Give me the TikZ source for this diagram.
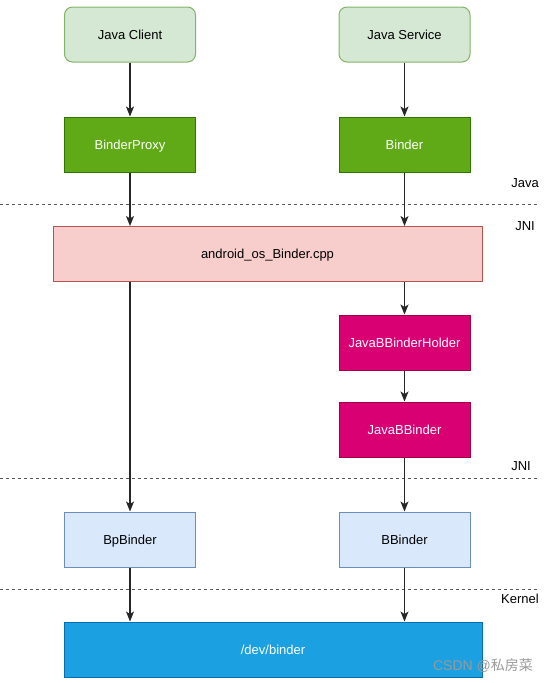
\documentclass[tikz,border=0pt]{standalone}
\usepackage{fontspec}
\setmainfont{Liberation Sans}
\newfontfamily\cjkfont{Noto Sans CJK SC}
\usetikzlibrary{arrows.meta}
\definecolor{gfill}{HTML}{D5E8D4}\definecolor{gline}{HTML}{82B366}
\definecolor{dgfill}{HTML}{60A917}\definecolor{dgline}{HTML}{2D7600}
\definecolor{rfill}{HTML}{F8CECC}\definecolor{rline}{HTML}{B85450}
\definecolor{mfill}{HTML}{D80073}\definecolor{mline}{HTML}{A50040}
\definecolor{bfill}{HTML}{DAE8FC}\definecolor{bline}{HTML}{6C8EBF}
\definecolor{cfill}{HTML}{1BA1E2}\definecolor{cline}{HTML}{006EAF}
\tikzset{
  box/.style={draw, line width=1pt, minimum width=131pt, minimum height=55pt, inner sep=0pt,
    text height=10pt, text depth=1pt, font=\fontsize{13}{15}\selectfont},
  greenbox/.style={box, fill=gfill, draw=gline, rounded corners=8pt},
  dgbox/.style={box, fill=dgfill, draw=dgline, text=white},
  redbox/.style={box, fill=rfill, draw=rline},
  magbox/.style={box, fill=mfill, draw=mline, text=white},
  bluebox/.style={box, fill=bfill, draw=bline},
  cyanbox/.style={box, fill=cfill, draw=cline, text=white},
  arr/.style={-{Stealth[length=10pt,width=8pt,inset=2.5pt]}, line width=1.2pt, draw=black!85},
  sep/.style={draw=black!65, line width=1pt, dash pattern=on 3pt off 3pt},
  lay/.style={font=\fontsize{13}{15}\selectfont, inner sep=0pt}
}
\begin{document}
\begin{tikzpicture}[x=1pt,y=-1pt]
\useasboundingbox (0,0) rectangle (550,683);
\node[greenbox] (jc) at (130,34.5) {Java Client};
\node[greenbox] (js) at (404.5,34.5) {Java Service};
\node[dgbox] (bp) at (130,144.5) {BinderProxy};
\node[dgbox] (b) at (404.5,144.5) {Binder};
\node[redbox, minimum width=429pt] (aob) at (267.5,254) {android\_os\_Binder.cpp};
\node[magbox] (jbh) at (404.5,342.5) {JavaBBinderHolder};
\node[magbox] (jbb) at (404.5,429.5) {JavaBBinder};
\node[bluebox] (bpb) at (130,539.5) {BpBinder};
\node[bluebox] (bb) at (404.5,539.5) {BBinder};
\node[cyanbox, minimum width=418pt] (dev) at (273,649.5) {/dev/binder};

\coordinate (l1a) at (0,204); \coordinate (l1b) at (540,204);
\coordinate (l2a) at (0,478); \coordinate (l2b) at (540,478);
\coordinate (l3a) at (0,589); \coordinate (l3b) at (540,589);
\draw[sep] (l1a) -- (l1b);
\draw[sep] (l2a) -- (l2b);
\draw[sep] (l3a) -- (l3b);
\node[lay] (tjava) at (525,183) {Java};
\node[lay] (tjni1) at (525,226) {JNI};
\node[lay] (tjni2) at (521,466) {JNI};
\node[lay] (tker) at (520,599) {Kernel};

\draw[arr] (jc) -- (bp);
\draw[arr] (js) -- (b);
\draw[arr] (bp) -- (bp |- aob.north);
\draw[arr] (b) -- (b |- aob.north);
\draw[arr] (aob.south -| bpb) -- (bpb);
\draw[arr] (aob.south -| jbh) -- (jbh);
\draw[arr] (jbh) -- (jbb);
\draw[arr] (jbb) -- (bb);
\draw[arr] (bpb) -- (bpb |- dev.north);
\draw[arr] (bb) -- (bb |- dev.north);

\node[inner sep=0pt, text=black!40, font=\fontsize{14}{16}\selectfont] (wm) at (483,666) {CSDN @{\cjkfont 私房菜}};
\end{tikzpicture}
\end{document}
